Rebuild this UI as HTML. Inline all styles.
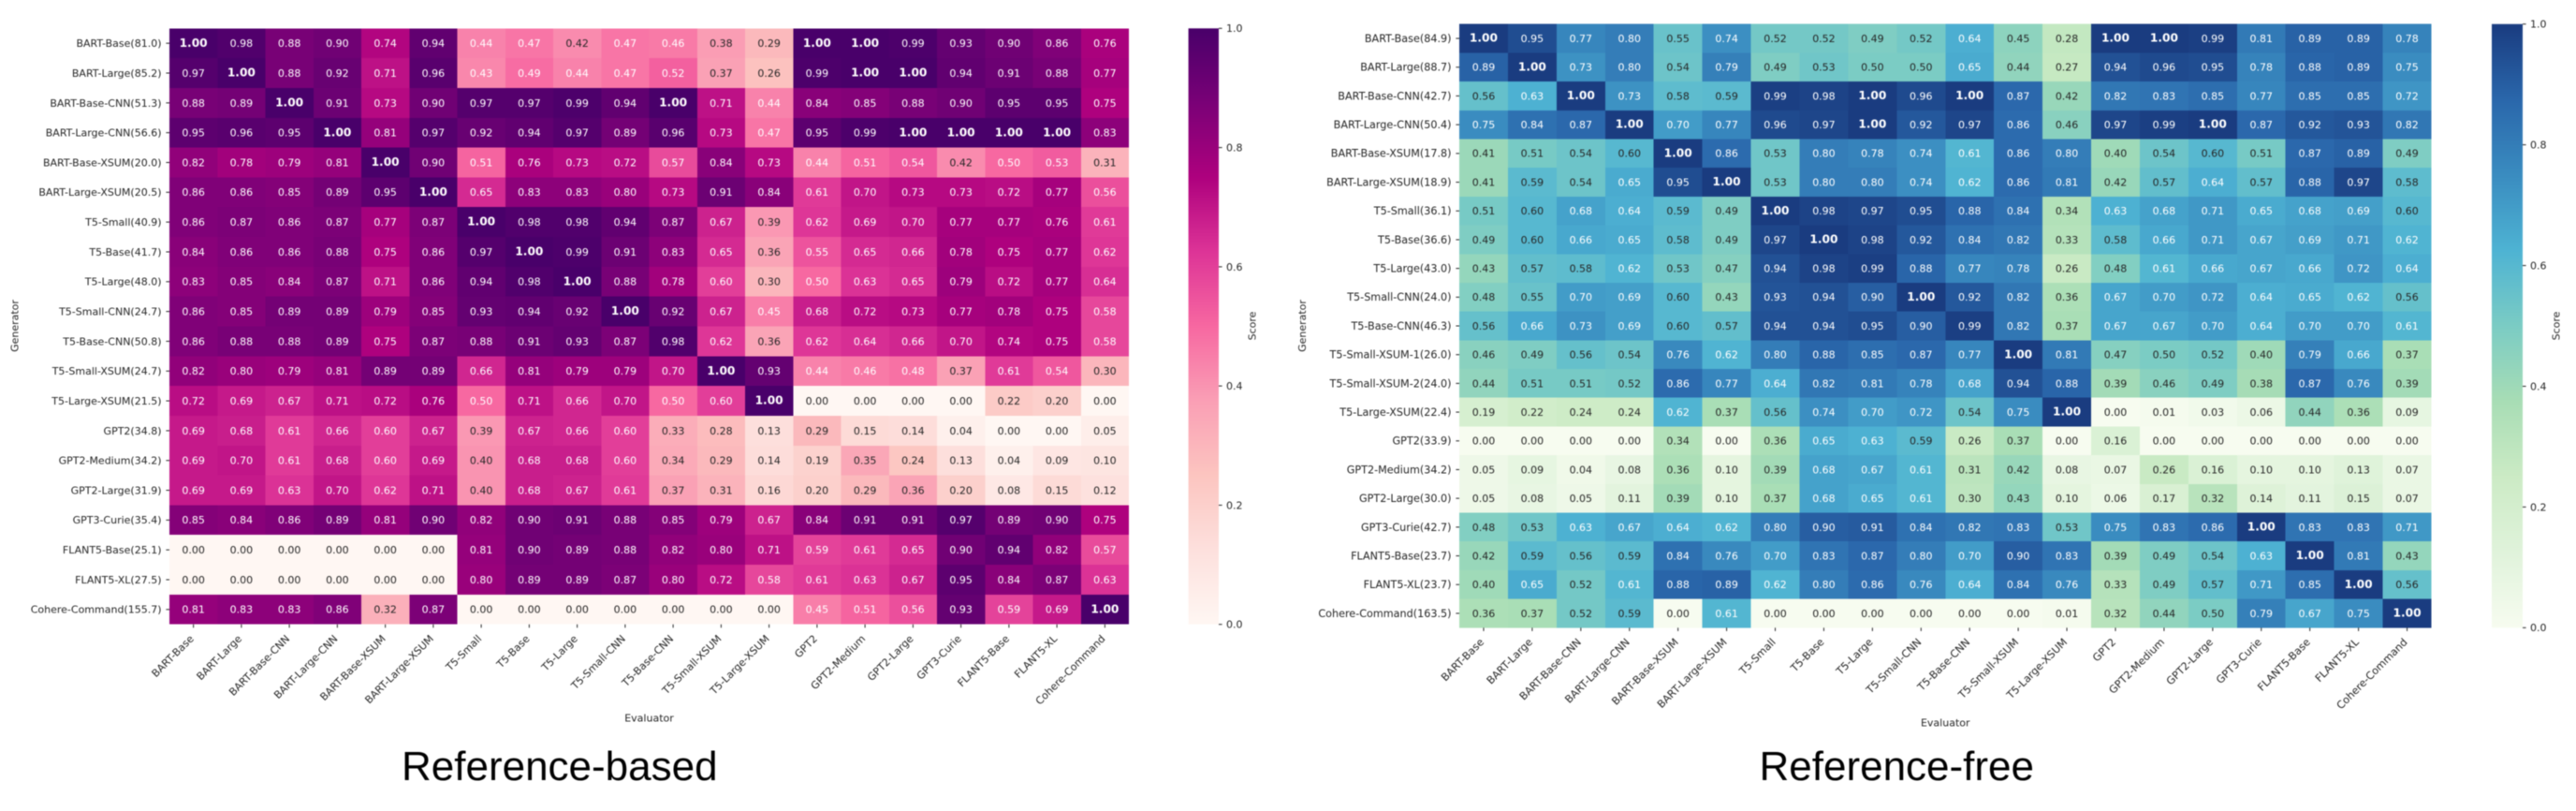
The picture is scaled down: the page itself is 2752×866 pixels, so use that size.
<!DOCTYPE html>
<html lang="en">
<head>
<meta charset="utf-8">
<title>Reference-based and Reference-free heatmaps</title>
<style>
html,body{margin:0;padding:0;background:#fff;width:2752px;height:866px;overflow:hidden}
svg{display:block;filter:blur(0.45px)}
text{font-family:"DejaVu Sans",sans-serif;fill:#262626}
.caption{font-family:"Liberation Sans",sans-serif;font-size:44px;fill:#000}
</style>
</head>
<body>
<svg id="figure" xmlns="http://www.w3.org/2000/svg" width="2752" height="866" viewBox="0 0 2752 866">
  <defs id="defs"></defs>
  <g id="panel-left"></g>
  <g id="panel-right"></g>
  <text class="caption" x="429" y="833">Reference-based</text>
  <text class="caption" x="1879.5" y="833">Reference-free</text>
</svg>
<script>
const evaluators = ["BART-Base","BART-Large","BART-Base-CNN","BART-Large-CNN","BART-Base-XSUM","BART-Large-XSUM","T5-Small","T5-Base","T5-Large","T5-Small-CNN","T5-Base-CNN","T5-Small-XSUM","T5-Large-XSUM","GPT2","GPT2-Medium","GPT2-Large","GPT3-Curie","FLANT5-Base","FLANT5-XL","Cohere-Command"];

const referenceBasedGenerators = ["BART-Base(81.0)","BART-Large(85.2)","BART-Base-CNN(51.3)","BART-Large-CNN(56.6)","BART-Base-XSUM(20.0)","BART-Large-XSUM(20.5)","T5-Small(40.9)","T5-Base(41.7)","T5-Large(48.0)","T5-Small-CNN(24.7)","T5-Base-CNN(50.8)","T5-Small-XSUM(24.7)","T5-Large-XSUM(21.5)","GPT2(34.8)","GPT2-Medium(34.2)","GPT2-Large(31.9)","GPT3-Curie(35.4)","FLANT5-Base(25.1)","FLANT5-XL(27.5)","Cohere-Command(155.7)"];

const referenceBasedScores = [
[1.00,.98,.88,.90,.74,.94,.44,.47,.42,.47,.46,.38,.29,1.00,1.00,.99,.93,.90,.86,.76],
[.97,1.00,.88,.92,.71,.96,.43,.49,.44,.47,.52,.37,.26,.99,1.00,1.00,.94,.91,.88,.77],
[.88,.89,1.00,.91,.73,.90,.97,.97,.99,.94,1.00,.71,.44,.84,.85,.88,.90,.95,.95,.75],
[.95,.96,.95,1.00,.81,.97,.92,.94,.97,.89,.96,.73,.47,.95,.99,1.00,1.00,1.00,1.00,.83],
[.82,.78,.79,.81,1.00,.90,.51,.76,.73,.72,.57,.84,.73,.44,.51,.54,.42,.50,.53,.31],
[.86,.86,.85,.89,.95,1.00,.65,.83,.83,.80,.73,.91,.84,.61,.70,.73,.73,.72,.77,.56],
[.86,.87,.86,.87,.77,.87,1.00,.98,.98,.94,.87,.67,.39,.62,.69,.70,.77,.77,.76,.61],
[.84,.86,.86,.88,.75,.86,.97,1.00,.99,.91,.83,.65,.36,.55,.65,.66,.78,.75,.77,.62],
[.83,.85,.84,.87,.71,.86,.94,.98,1.00,.88,.78,.60,.30,.50,.63,.65,.79,.72,.77,.64],
[.86,.85,.89,.89,.79,.85,.93,.94,.92,1.00,.92,.67,.45,.68,.72,.73,.77,.78,.75,.58],
[.86,.88,.88,.89,.75,.87,.88,.91,.93,.87,.98,.62,.36,.62,.64,.66,.70,.74,.75,.58],
[.82,.80,.79,.81,.89,.89,.66,.81,.79,.79,.70,1.00,.93,.44,.46,.48,.37,.61,.54,.30],
[.72,.69,.67,.71,.72,.76,.50,.71,.66,.70,.50,.60,1.00,0,0,0,0,.22,.20,0],
[.69,.68,.61,.66,.60,.67,.39,.67,.66,.60,.33,.28,.13,.29,.15,.14,.04,0,0,.05],
[.69,.70,.61,.68,.60,.69,.40,.68,.68,.60,.34,.29,.14,.19,.35,.24,.13,.04,.09,.10],
[.69,.69,.63,.70,.62,.71,.40,.68,.67,.61,.37,.31,.16,.20,.29,.36,.20,.08,.15,.12],
[.85,.84,.86,.89,.81,.90,.82,.90,.91,.88,.85,.79,.67,.84,.91,.91,.97,.89,.90,.75],
[0,0,0,0,0,0,.81,.90,.89,.88,.82,.80,.71,.59,.61,.65,.90,.94,.82,.57],
[0,0,0,0,0,0,.80,.89,.89,.87,.80,.72,.58,.61,.63,.67,.95,.84,.87,.63],
[.81,.83,.83,.86,.32,.87,0,0,0,0,0,0,0,.45,.51,.56,.93,.59,.69,1.00]
];

const referenceFreeGenerators = ["BART-Base(84.9)","BART-Large(88.7)","BART-Base-CNN(42.7)","BART-Large-CNN(50.4)","BART-Base-XSUM(17.8)","BART-Large-XSUM(18.9)","T5-Small(36.1)","T5-Base(36.6)","T5-Large(43.0)","T5-Small-CNN(24.0)","T5-Base-CNN(46.3)","T5-Small-XSUM-1(26.0)","T5-Small-XSUM-2(24.0)","T5-Large-XSUM(22.4)","GPT2(33.9)","GPT2-Medium(34.2)","GPT2-Large(30.0)","GPT3-Curie(42.7)","FLANT5-Base(23.7)","FLANT5-XL(23.7)","Cohere-Command(163.5)"];

const referenceFreeScores = [
[1.00,.95,.77,.80,.55,.74,.52,.52,.49,.52,.64,.45,.28,1.00,1.00,.99,.81,.89,.89,.78],
[.89,1.00,.73,.80,.54,.79,.49,.53,.50,.50,.65,.44,.27,.94,.96,.95,.78,.88,.89,.75],
[.56,.63,1.00,.73,.58,.59,.99,.98,1.00,.96,1.00,.87,.42,.82,.83,.85,.77,.85,.85,.72],
[.75,.84,.87,1.00,.70,.77,.96,.97,1.00,.92,.97,.86,.46,.97,.99,1.00,.87,.92,.93,.82],
[.41,.51,.54,.60,1.00,.86,.53,.80,.78,.74,.61,.86,.80,.40,.54,.60,.51,.87,.89,.49],
[.41,.59,.54,.65,.95,1.00,.53,.80,.80,.74,.62,.86,.81,.42,.57,.64,.57,.88,.97,.58],
[.51,.60,.68,.64,.59,.49,1.00,.98,.97,.95,.88,.84,.34,.63,.68,.71,.65,.68,.69,.60],
[.49,.60,.66,.65,.58,.49,.97,1.00,.98,.92,.84,.82,.33,.58,.66,.71,.67,.69,.71,.62],
[.43,.57,.58,.62,.53,.47,.94,.98,.99,.88,.77,.78,.26,.48,.61,.66,.67,.66,.72,.64],
[.48,.55,.70,.69,.60,.43,.93,.94,.90,1.00,.92,.82,.36,.67,.70,.72,.64,.65,.62,.56],
[.56,.66,.73,.69,.60,.57,.94,.94,.95,.90,.99,.82,.37,.67,.67,.70,.64,.70,.70,.61],
[.46,.49,.56,.54,.76,.62,.80,.88,.85,.87,.77,1.00,.81,.47,.50,.52,.40,.79,.66,.37],
[.44,.51,.51,.52,.86,.77,.64,.82,.81,.78,.68,.94,.88,.39,.46,.49,.38,.87,.76,.39],
[.19,.22,.24,.24,.62,.37,.56,.74,.70,.72,.54,.75,1.00,0,.01,.03,.06,.44,.36,.09],
[0,0,0,0,.34,0,.36,.65,.63,.59,.26,.37,0,.16,0,0,0,0,0,0],
[.05,.09,.04,.08,.36,.10,.39,.68,.67,.61,.31,.42,.08,.07,.26,.16,.10,.10,.13,.07],
[.05,.08,.05,.11,.39,.10,.37,.68,.65,.61,.30,.43,.10,.06,.17,.32,.14,.11,.15,.07],
[.48,.53,.63,.67,.64,.62,.80,.90,.91,.84,.82,.83,.53,.75,.83,.86,1.00,.83,.83,.71],
[.42,.59,.56,.59,.84,.76,.70,.83,.87,.80,.70,.90,.83,.39,.49,.54,.63,1.00,.81,.43],
[.40,.65,.52,.61,.88,.89,.62,.80,.86,.76,.64,.84,.76,.33,.49,.57,.71,.85,1.00,.56],
[.36,.37,.52,.59,0,.61,0,0,0,0,0,0,.01,.32,.44,.50,.79,.67,.75,1.00]
];

const colorbarTicks = [0, 0.2, 0.4, 0.6, 0.8, 1.0];

const rdPuColors = ["#fff7f3","#fde0dd","#fcc5c0","#fa9fb5","#f768a1","#dd3497","#ae017e","#7a0177","#49006a"];
const gnBuColors = ["#f7fcf0","#e0f3db","#ccebc5","#a8ddb5","#7bccc4","#4eb3d3","#3a8cc0","#2a67ab","#1a3c80"];

const SVG_NS = "http://www.w3.org/2000/svg";

function hexToRgb(hex) {
  return [1, 3, 5].map(function (k) { return parseInt(hex.slice(k, k + 2), 16); });
}

function sampleColormap(colors, value) {
  const v = Math.max(0, Math.min(1, value)) * (colors.length - 1);
  const i = Math.min(Math.floor(v), colors.length - 2);
  const t = v - i;
  const a = hexToRgb(colors[i]);
  const b = hexToRgb(colors[i + 1]);
  return a.map(function (c, k) { return Math.round(c + (b[k] - c) * t); });
}

function rgbCss(rgb) {
  return "rgb(" + rgb.join(",") + ")";
}

function luminance(rgb) {
  const lin = rgb.map(function (c) {
    const s = c / 255;
    return s <= 0.03928 ? s / 12.92 : Math.pow((s + 0.055) / 1.055, 2.4);
  });
  return 0.2126 * lin[0] + 0.7152 * lin[1] + 0.0722 * lin[2];
}

function svgEl(tag, parent) {
  const el = document.createElementNS(SVG_NS, tag);
  parent.appendChild(el);
  return el;
}

function drawPanel(parent, gradientId, colors, rowLabels, columnLabels, scores, box) {
  const cellW = (box.right - box.left) / columnLabels.length;
  const cellH = (box.bottom - box.top) / rowLabels.length;
  const xScale = function (i) { return box.left + i * cellW; };
  const yScale = function (j) { return box.top + j * cellH; };
  const cbScale = function (v) { return box.bottom - v * (box.bottom - box.top); };

  const cells = svgEl("g", parent);
  cells.setAttribute("shape-rendering", "crispEdges");
  
  

  scores.forEach(function (row, j) {
    row.forEach(function (value, i) {
      const color = sampleColormap(colors, value);
      const rect = svgEl("rect", cells);
      rect.setAttribute("x", xScale(i));
      rect.setAttribute("y", yScale(j));
      rect.setAttribute("width", i === row.length - 1 ? cellW : cellW + 0.6);
      rect.setAttribute("height", j === scores.length - 1 ? cellH : cellH + 0.6);
      rect.setAttribute("fill", rgbCss(color));
      
      
    });
  });

  scores.forEach(function (row, j) {
    row.forEach(function (value, i) {
      const color = sampleColormap(colors, value);
      const label = svgEl("text", parent);
      const isMax = value >= 1;
      label.setAttribute("x", xScale(i + 0.5));
      label.setAttribute("y", yScale(j + 0.5) + (isMax ? 3.6 : 3.9));
      label.setAttribute("text-anchor", "middle");
      label.setAttribute("font-size", isMax ? "12.2" : "11");
      if (isMax) {
        label.setAttribute("font-weight", "bold");
      }
      label.style.fill = luminance(color) > 0.408 ? "#262626" : "#ffffff";
      label.textContent = value.toFixed(2);
      
      
    });
  });

  rowLabels.forEach(function (name, j) {
    const tick = svgEl("line", parent);
    tick.setAttribute("x1", box.left - 3.6);
    tick.setAttribute("x2", box.left);
    tick.setAttribute("y1", yScale(j + 0.5));
    tick.setAttribute("y2", yScale(j + 0.5));
    tick.setAttribute("stroke", "#262626");
    tick.setAttribute("stroke-width", "1");
    
    

    const label = svgEl("text", parent);
    label.setAttribute("x", box.left - 8.5);
    label.setAttribute("y", yScale(j + 0.5) + 3.9);
    label.setAttribute("text-anchor", "end");
    label.setAttribute("font-size", box.labelSize);
    label.textContent = name;
    
    
  });

  columnLabels.forEach(function (name, i) {
    const tx = xScale(i + 0.5);
    const tick = svgEl("line", parent);
    tick.setAttribute("x1", tx);
    tick.setAttribute("x2", tx);
    tick.setAttribute("y1", box.bottom);
    tick.setAttribute("y2", box.bottom + 3.6);
    tick.setAttribute("stroke", "#262626");
    tick.setAttribute("stroke-width", "1");
    
    

    const label = svgEl("text", parent);
    label.setAttribute("text-anchor", "end");
    label.setAttribute("font-size", box.labelSize);
    label.setAttribute("transform", "translate(" + (tx + 1) + "," + (box.bottom + 16) + ") rotate(-45)");
    label.textContent = name;
    
    
  });

  const xTitle = svgEl("text", parent);
  xTitle.setAttribute("x", (box.left + box.right) / 2);
  xTitle.setAttribute("y", box.xTitleY);
  xTitle.setAttribute("text-anchor", "middle");
  xTitle.setAttribute("font-size", "11");
  xTitle.textContent = "Evaluator";
  
  

  const yTitle = svgEl("text", parent);
  yTitle.setAttribute("text-anchor", "middle");
  yTitle.setAttribute("font-size", "11");
  yTitle.setAttribute("transform", "translate(" + box.yTitleX + ",348) rotate(-90)");
  yTitle.textContent = "Generator";
  
  

  const gradient = svgEl("linearGradient", document.getElementById("defs"));
  gradient.setAttribute("id", gradientId);
  gradient.setAttribute("x1", "0");
  gradient.setAttribute("y1", "1");
  gradient.setAttribute("x2", "0");
  gradient.setAttribute("y2", "0");
  colors.forEach(function (c, k) {
    const stop = svgEl("stop", gradient);
    stop.setAttribute("offset", k / (colors.length - 1));
    stop.setAttribute("stop-color", c);
  });

  const bar = svgEl("rect", parent);
  bar.setAttribute("x", box.cbLeft);
  bar.setAttribute("y", box.top);
  bar.setAttribute("width", box.cbRight - box.cbLeft);
  bar.setAttribute("height", box.bottom - box.top);
  bar.setAttribute("fill", "url(#" + gradientId + ")");
  
  

  colorbarTicks.forEach(function (v) {
    const tick = svgEl("line", parent);
    tick.setAttribute("x1", box.cbRight);
    tick.setAttribute("x2", box.cbRight + 3.6);
    tick.setAttribute("y1", cbScale(v));
    tick.setAttribute("y2", cbScale(v));
    tick.setAttribute("stroke", "#262626");
    tick.setAttribute("stroke-width", "1");
    
    

    const label = svgEl("text", parent);
    label.setAttribute("x", box.cbRight + 8);
    label.setAttribute("y", cbScale(v) + 3.9);
    label.setAttribute("font-size", "11");
    label.textContent = v.toFixed(1);
    
    
  });

  const scoreTitle = svgEl("text", parent);
  scoreTitle.setAttribute("text-anchor", "middle");
  scoreTitle.setAttribute("font-size", "11");
  scoreTitle.setAttribute("transform", "translate(" + box.scoreX + ",348) rotate(-90)");
  scoreTitle.textContent = "Score";
  
  
}

drawPanel(document.getElementById("panel-left"), "rdpu-gradient", rdPuColors, referenceBasedGenerators, evaluators, referenceBasedScores, {
  left: 181, right: 1206, top: 30.3, bottom: 666.7,
  cbLeft: 1269.6, cbRight: 1302, labelSize: 11,
  xTitleY: 770.5, yTitleX: 19.5, scoreX: 1341.5
});

drawPanel(document.getElementById("panel-right"), "gnbu-gradient", gnBuColors, referenceFreeGenerators, evaluators, referenceFreeScores, {
  left: 1559, right: 2597.5, top: 25.7, bottom: 670.3,
  cbLeft: 2662, cbRight: 2695, labelSize: 11.2,
  xTitleY: 775.5, yTitleX: 1395, scoreX: 2734.5
});
</script>
</body>
</html>
